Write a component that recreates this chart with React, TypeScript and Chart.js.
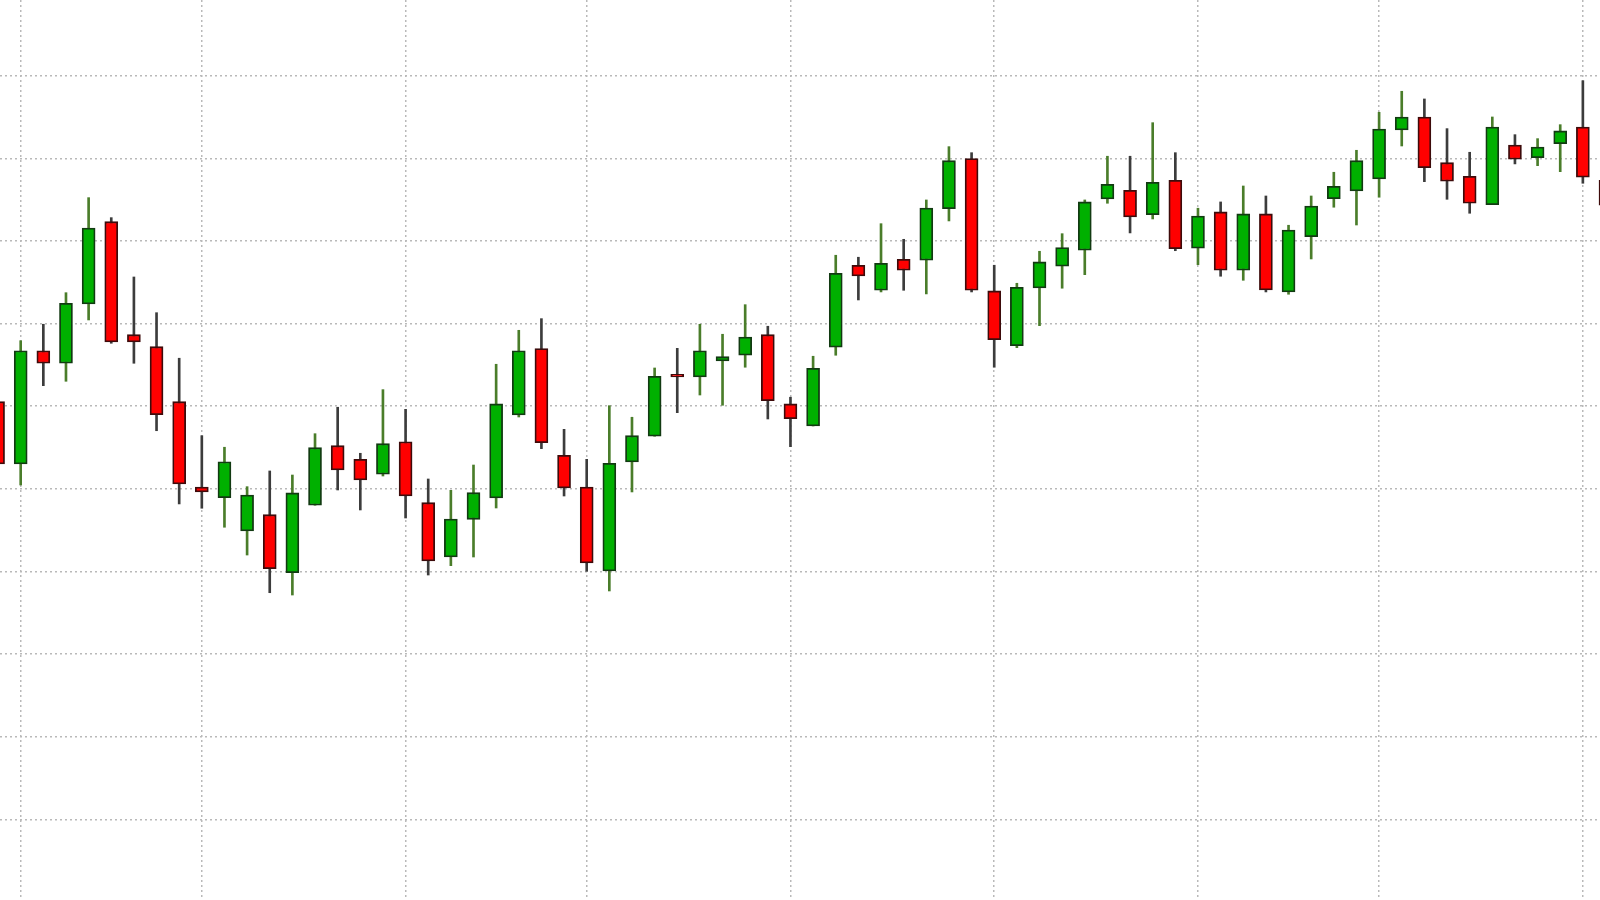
import React, { useEffect, useRef } from "react";
import { Chart, registerables } from "chart.js";

Chart.register(...registerables);

// OHLC per trading session (index = session number, left to right)
const opens = [
  250.55, 243.02, 256.72, 255.2, 262.38, 272.33, 258.66, 257.21, 250.55, 240.23,
  238.94, 234.91, 236.88, 229.86, 238.02, 245.23, 243.58, 241.77, 245.71, 238.33,
  231.76, 236.32, 238.9, 248.94, 256.97, 244.07, 240.23, 230.07, 243.26, 246.37,
  253.87, 253.54, 255.48, 256.17, 258.66, 250.28, 247.61, 257.14, 267.06, 264.03,
  267.78, 267.66, 273.91, 279.96, 263.95, 257.33, 264.31, 266.94, 268.87, 275.08,
  276.13, 273.18, 277.34, 269.12, 273.51, 266.45, 273.27, 263.83, 270.52, 275.12,
  276.05, 277.5, 283.43, 285.0, 279.47, 277.83, 274.39, 281.61, 280.08, 281.77,
  283.79, 277.34,
];
const highs = [
  251.36, 257.93, 259.92, 263.74, 275.24, 272.82, 265.64, 261.32, 255.81, 246.44,
  245.04, 240.27, 242.17, 241.68, 246.68, 249.88, 244.31, 252.01, 249.63, 241.2,
  239.83, 242.89, 255.08, 259.19, 260.6, 247.21, 243.58, 250.07, 248.67, 254.63,
  257.01, 259.92, 258.71, 262.29, 259.68, 251.09, 256.05, 268.27, 268.03, 272.09,
  270.2, 274.96, 281.41, 280.68, 267.06, 264.88, 268.75, 270.88, 274.96, 280.25,
  280.25, 284.31, 280.68, 273.96, 274.72, 276.65, 275.44, 271.9, 275.44, 278.31,
  280.97, 285.57, 288.11, 287.18, 283.59, 280.73, 285.0, 282.86, 282.38, 284.07,
  289.39, 277.98,
];
const lows = [
  242.29, 240.47, 252.49, 253.02, 260.44, 257.62, 255.2, 247.04, 238.18, 237.66,
  235.36, 232.0, 227.44, 227.16, 238.02, 239.87, 237.45, 241.56, 236.48, 229.58,
  230.71, 231.76, 237.69, 248.7, 244.87, 239.14, 230.03, 227.65, 239.63, 246.37,
  249.22, 251.36, 250.12, 254.72, 248.46, 245.11, 247.61, 256.17, 262.86, 263.83,
  264.03, 263.59, 272.42, 263.83, 254.72, 257.09, 259.75, 264.28, 265.92, 274.56,
  270.97, 272.66, 268.82, 267.13, 265.73, 265.24, 263.83, 263.55, 267.82, 274.08,
  271.93, 275.29, 281.49, 277.17, 275.04, 273.35, 274.39, 279.32, 279.11, 278.38,
  276.98, 273.75,
];
const closes = [
  243.02, 256.72, 255.2, 262.46, 271.57, 257.78, 257.78, 248.98, 240.6, 239.63,
  243.29, 239.26, 230.35, 239.51, 244.99, 242.29, 241.08, 245.47, 239.14, 231.28,
  236.36, 239.54, 250.28, 256.72, 245.59, 240.11, 231.04, 243.1, 246.44, 253.63,
  253.54, 256.72, 256.0, 258.38, 250.67, 248.5, 254.6, 266.09, 265.76, 267.3,
  266.45, 273.99, 279.71, 264.03, 258.06, 264.4, 267.46, 269.19, 274.72, 276.86,
  272.9, 277.1, 269.07, 273.02, 266.45, 273.27, 264.07, 271.33, 274.23, 276.62,
  279.71, 283.55, 285.0, 278.87, 277.22, 274.56, 283.79, 279.88, 281.37, 283.31,
  277.71, 274.32,
];

// Sessions that carry a vertical grid line
const xGridSessions = [1, 9, 18, 26, 35, 44, 53, 61, 70];
// Price levels that carry a horizontal grid line
const yGridLevels = [200, 210, 220, 230, 240, 250, 260, 270, 280, 290];

// Visible window
const xMin = 0.0857;
const xMax = 70.757;
const yMin = 190.26;
const yMax = 299.153;

const UP_BODY = "#00b000";
const DOWN_BODY = "#ff0000";
const UP_EDGE = "#123a12";
const DOWN_EDGE = "#3d0b0b";
const UP_WICK = "#4a7d2a";
const DOWN_WICK = "#3c3c3c";

export default function App() {
  const canvasRef = useRef<HTMLCanvasElement | null>(null);

  useEffect(() => {
    document.body.style.margin = "0";
    const canvas = canvasRef.current;
    if (!canvas) return;

    const isUp = opens.map((o, i) => closes[i] >= o);

    const bodies = opens.map((o, i) => ({ x: i, y: [o, closes[i]] }));
    const wicks = lows.map((l, i) => ({ x: i, y: [l, highs[i]] }));

    const gridCommon = {
      color: "#b9b9b9",
      lineWidth: 1.5,
      drawTicks: false,
      tickLength: 0,
      offset: false,
    };

    const chart = new Chart(canvas, {
      type: "bar",
      data: {
        datasets: [
          {
            label: "body",
            data: bodies as any,
            backgroundColor: isUp.map((u) => (u ? UP_BODY : DOWN_BODY)),
            borderColor: isUp.map((u) => (u ? UP_EDGE : DOWN_EDGE)),
            borderWidth: 1.8,
            borderSkipped: false,
            barThickness: 13,
            grouped: false,
          } as any,
          {
            label: "wick",
            data: wicks as any,
            backgroundColor: isUp.map((u) => (u ? UP_WICK : DOWN_WICK)),
            borderWidth: 0,
            barThickness: 2,
            grouped: false,
          } as any,
        ],
      },
      options: {
        animation: false,
        responsive: true,
        maintainAspectRatio: false,
        layout: { padding: 0 },
        plugins: {
          legend: { display: false },
          tooltip: { enabled: false },
        },
        scales: {
          x: {
            type: "linear",
            min: xMin,
            max: xMax,
            offset: false,
            ticks: { display: false },
            border: { display: false, dash: [2, 3] },
            grid: gridCommon as any,
            afterBuildTicks: (axis: any) => {
              axis.ticks = xGridSessions.map((v) => ({ value: v }));
            },
          },
          y: {
            type: "linear",
            min: yMin,
            max: yMax,
            ticks: { display: false },
            border: { display: false, dash: [2, 3] },
            grid: gridCommon as any,
            afterBuildTicks: (axis: any) => {
              axis.ticks = yGridLevels.map((v) => ({ value: v }));
            },
          },
        },
      } as any,
    });

    return () => {
      chart.destroy();
    };
  }, []);

  return (
    <div
      style={{
        position: "fixed",
        left: 0,
        top: 0,
        width: "100vw",
        height: "100vh",
        background: "#ffffff",
      }}
    >
      <canvas ref={canvasRef} />
    </div>
  );
}
